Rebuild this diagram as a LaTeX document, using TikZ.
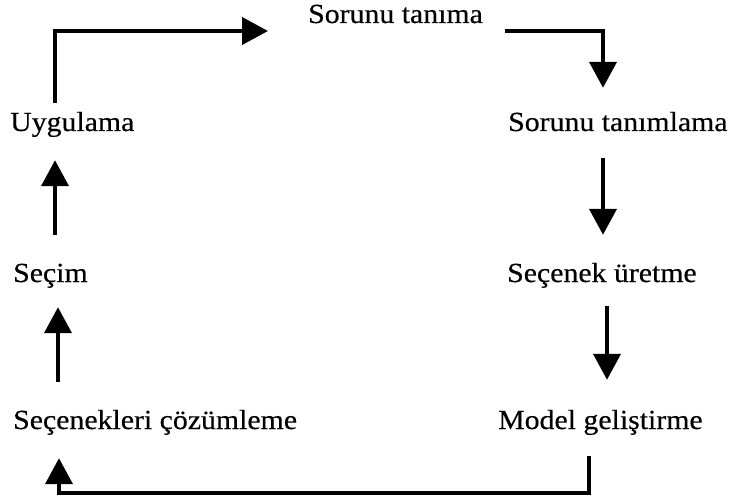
\documentclass[tikz,border=0pt]{standalone}
\usepackage{fontspec}
\setmainfont{Liberation Serif}[FakeStretch=1.08,FakeBold=0.4]
\usetikzlibrary{arrows.meta}
\begin{document}
\begin{tikzpicture}[x=1pt,y=-1pt,
  lbl/.style={anchor=base west,inner sep=0pt,text height=19pt,text depth=6pt,font=\fontsize{27.6}{30}\selectfont},
  arr/.style={line width=4pt,-{Triangle[length=26pt,width=27pt]}},
  ln/.style={line width=4pt}]
\useasboundingbox (0,0) rectangle (731,500);
% nodes
\node[lbl] (tan) at (308,23) {Sorunu tanıma};
\node[lbl] (tml) at (508,131) {Sorunu tanımlama};
\node[lbl] (uyg) at (10,131) {Uygulama};
\node[lbl] (sec) at (13,282) {Seçim};
\node[lbl] (sur) at (507,282) {Seçenek üretme};
\node[lbl] (sc) at (13,429) {Seçenekleri çözümleme};
\node[lbl] (mg) at (498,429) {Model geliştirme};
% bend points / columns
\coordinate (c1) at (55,31);
\coordinate (c2) at (603,31);
\coordinate (c3) at (589,493);
\coordinate (c4) at (59,493);
\coordinate (cL2) at (58,0);
\coordinate (cR2) at (607,0);
% connectors
\draw[arr,shorten <=9pt,shorten >=40pt] (uyg.north -| c1) -- (c1) -- (tan.west |- c1);
\draw[arr,shorten <=22pt,shorten >=24pt] (tan.east |- c2) -- (c2) -- (tml.north -| c2);
\draw[arr,shorten <=21pt,shorten >=28pt] (tml.south -| c2) -- (sur.north -| c2);
\draw[arr,shorten <=18pt,shorten >=30pt] (sur.south -| cR2) -- (mg.north -| cR2);
\draw[arr,shorten <=21pt,shorten >=23pt] (mg.south -| c3) -- (c3) -- (c4) -- (sc.south -| c4);
\draw[arr,shorten <=28pt,shorten >=19pt] (sc.north -| cL2) -- (sec.south -| cL2);
\draw[arr,shorten <=28pt,shorten >=23pt] (sec.north -| c1) -- (uyg.south -| c1);
\end{tikzpicture}
\end{document}
